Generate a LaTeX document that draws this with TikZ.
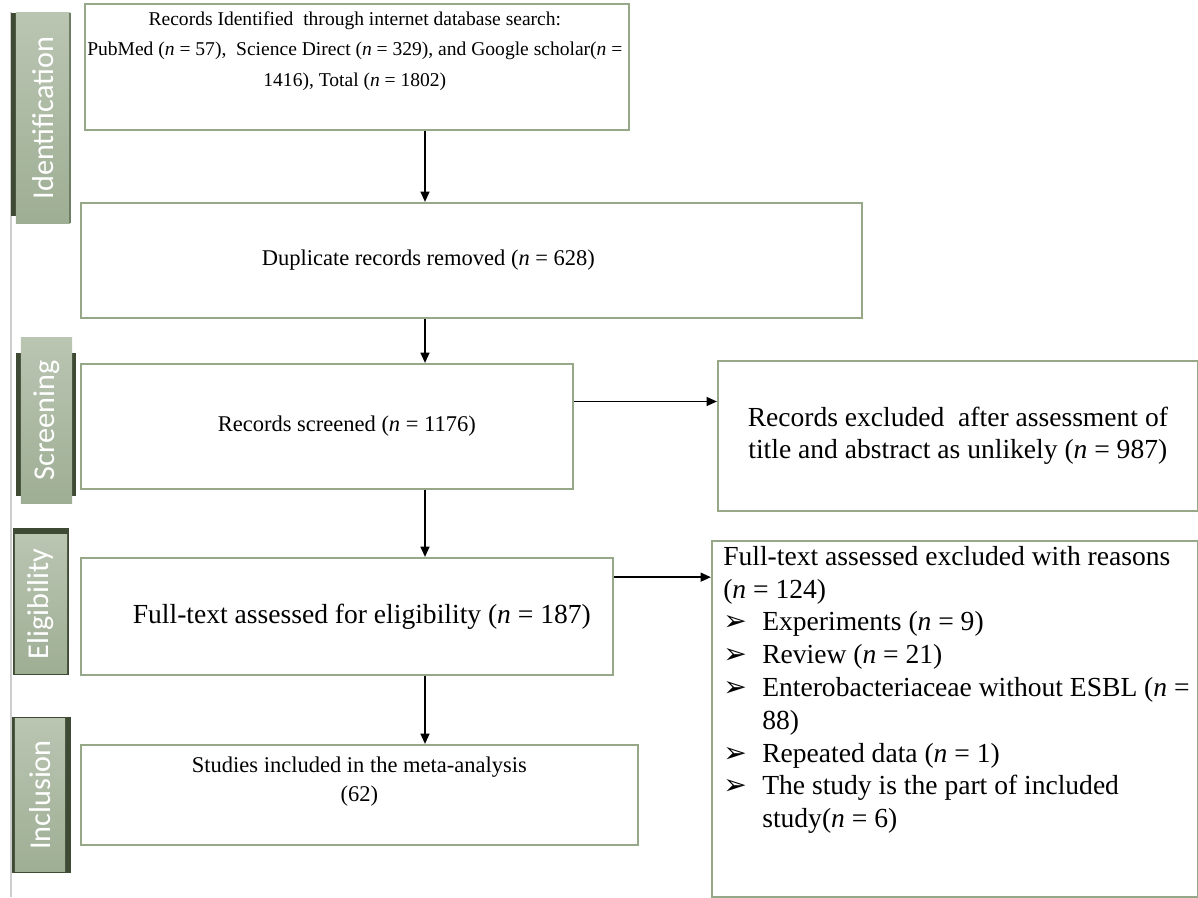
\documentclass[tikz,border=0pt]{standalone}
\usepackage{fontspec}
\setmainfont{Liberation Serif}
\newfontfamily\stagefont{Carlito}
\newfontfamily\symbolfont{DejaVu Sans}
\usetikzlibrary{positioning,calc,arrows.meta}
\definecolor{BoxGreen}{RGB}{150,168,136}
\definecolor{StageLight}{RGB}{186,197,178}
\definecolor{StageDark}{RGB}{158,174,148}
\definecolor{StageEdge}{RGB}{110,126,98}
\definecolor{StripDark}{RGB}{62,74,52}
\definecolor{GuideGray}{RGB}{205,205,205}
\newcommand{\arrowbullet}{\makebox[0.975cm][l]{{\symbolfont\fontsize{20}{20}\selectfont ➢}}}
\tikzset{
    flowbox/.style={rectangle, draw=BoxGreen, line width=1.1pt, fill=white, anchor=north west, inner sep=0pt, align=center},
    flowarrow/.style={-{Triangle[length=0.26cm,width=0.22cm]}, line width=1.4pt, black}
}

\begin{document}
\begin{tikzpicture}[
        x=0.025cm, y=-0.025cm,
        % --- STAGE LABELS ---
        stagebox/.style={
            rectangle,
            rotate=90,
            inner sep=0pt,
            top color=StageLight,     % left side after rotation
            bottom color=StageDark,   % right side after rotation
            text=white,
            font=\stagefont\fontsize{21.5}{25}\selectfont
        },
        % --- TEXT SIZES ---
        boxtext/.style={inner sep=0pt, align=center},
        smalltext/.style={boxtext, font=\fontsize{13.9}{22}\selectfont},
        midtext/.style={boxtext, font=\fontsize{16}{19}\selectfont},
        bigtext/.style={boxtext, font=\fontsize{19.6}{23.3}\selectfont}
    ]
    \useasboundingbox (0,0) rectangle (1198,897);

    % --- GUIDE LINE ---
    \draw[GuideGray, line width=1pt] (11,12) -- (11,897);

    % --- STAGE LABELS (dark strips first) ---
    \fill[StripDark] (11,13) rectangle (16,216);
    \node[stagebox, minimum width=5.25cm, minimum height=1.35cm] (stageid) at (43,118) {Identification};
    \fill[StageEdge] (69,13) rectangle (70.5,223);

    \fill[StripDark] (16,353) rectangle (21,496);
    \fill[StripDark] (72,353) rectangle (76,496);
    \node[stagebox, minimum width=4.125cm, minimum height=1.275cm] (stagescr) at (46.5,420.5) {Screening};

    \fill[StripDark] (13,528) rectangle (69,675);
    \node[stagebox, minimum width=3.45cm, minimum height=1.3cm] (stageelig) at (41,604) {Eligibility};

    \fill[StripDark] (12,717) rectangle (71,873);
    \node[stagebox, minimum width=3.8cm, minimum height=1.25cm] (stageincl) at (40,795) {Inclusion};

    % --- MAIN BOXES ---
    \node[flowbox, minimum width=13.6cm, minimum height=3.15cm] (ident) at (84,3) {};
    \node[smalltext, anchor=north] (identtext) at ($(ident.north)+(-2,8)$)
        {Records Identified\ \ through internet database search:\\
         PubMed (\textit{n} = 57),\ \ Science Direct (\textit{n} = 329), and Google scholar(\textit{n} =\\
         1416), Total (\textit{n} = 1802)};

    \node[flowbox, minimum width=19.525cm, minimum height=2.875cm] (dup) at (80,202) {};
    \node[midtext] (duptext) at ($(dup.center)+(-43,0)$) {Duplicate records removed (\textit{n} = 628)};

    \node[flowbox, minimum width=12.3cm, minimum height=3.125cm] (screen) at (80,363) {};
    \node[midtext] (screentext) at ($(screen.center)+(20,0)$) {Records screened (\textit{n} = 1176)};

    \node[flowbox, minimum width=13.3cm, minimum height=2.925cm] (full) at (80,557) {};
    \node[bigtext] (fulltext) at ($(full.center)+(15,0)$) {Full-text assessed for eligibility (\textit{n} = 187)};

    \node[flowbox, minimum width=13.925cm, minimum height=2.5cm] (incl) at (80,744) {};
    \node[boxtext, anchor=north, font=\fontsize{16}{20.6}\selectfont] (incltext)
        at ($(incl.north)+(0,13)$) {Studies included in the meta-analysis\\(62)};

    % --- EXCLUSION BOXES ---
    \node[flowbox, minimum width=12cm, minimum height=3.75cm] (excl1) at (717,360) {};
    \node[bigtext] (excl1text) at (excl1.center)
        {Records excluded\ \ after assessment of\\
         title and abstract as unlikely (\textit{n} = 987)};

    \node[flowbox, minimum width=12.15cm, minimum height=8.9cm] (excl2) at (711,540) {};
    \node[bigtext, anchor=north west, align=left] (excl2text)
        at ($(excl2.north west)+(12,6)$)
        {Full-text assessed excluded with reasons\\
         (\textit{n} = 124)\\
         \arrowbullet Experiments (\textit{n} = 9)\\
         \arrowbullet Review (\textit{n} = 21)\\
         \arrowbullet Enterobacteriaceae without ESBL (\textit{n} =\\
         \hspace*{0.975cm}88)\\
         \arrowbullet Repeated data (\textit{n} = 1)\\
         \arrowbullet The study is the part of included\\
         \hspace*{0.975cm}study(\textit{n} = 6)};

    % --- ARROWS ---
    \coordinate (spine) at (425,0);
    \draw[flowarrow] (ident.south -| spine) -- (dup.north -| spine);
    \draw[flowarrow] (dup.south -| spine) -- (screen.north -| spine);
    \draw[flowarrow] (screen.south -| spine) -- (full.north -| spine);
    \draw[flowarrow] (full.south -| spine) -- (incl.north -| spine);

    \coordinate (screenout) at ($(screen.north east)!0.304!(screen.south east)$);
    \coordinate (fullout) at ($(full.north east)!0.17!(full.south east)$);
    \draw[flowarrow] (screenout) -- (screenout -| excl1.west);
    \draw[flowarrow] (fullout) -- (fullout -| excl2.west);

\end{tikzpicture}
\end{document}
